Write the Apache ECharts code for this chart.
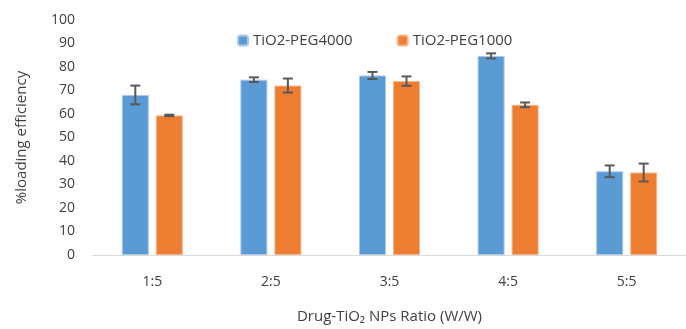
<!DOCTYPE html>
<html>
<head>
<meta charset="utf-8">
<script src="https://cdn.jsdelivr.net/npm/echarts@6/dist/echarts.min.js"></script>
<style>
html, body { margin: 0; padding: 0; background: #fff; }
#main { width: 686px; height: 329px; }
</style>
</head>
<body>
<div id="main"></div>
<script>
var categories = ['1:5', '2:5', '3:5', '4:5', '5:5'];
var peg4000 = [68.1, 74.6, 76.4, 84.7, 35.6];
var peg4000Err = [4.0, 1.0, 1.5, 1.1, 2.5];
var peg1000 = [59.4, 72.1, 74.0, 63.9, 35.1];
var peg1000Err = [0.3, 3.0, 2.0, 1.0, 3.8];

var BAR_W = 27;
var BAR_SHIFT = 17;

function errData(vals, errs) {
	return vals.map(function (v, i) {
		return [i, v - errs[i], v + errs[i]];
	});
}

function errRender(shift) {
	return function (params, api) {
		var lo = api.coord([api.value(0), api.value(1)]);
		var hi = api.coord([api.value(0), api.value(2)]);
		var x = lo[0] + shift;
		var half = 5;
		var style = { stroke: '#595959', lineWidth: 2 };
		return {
			type: 'group',
			children: [
				{ type: 'line', shape: { x1: x, y1: hi[1], x2: x, y2: lo[1] }, style: style },
				{ type: 'line', shape: { x1: x - half, y1: hi[1], x2: x + half, y2: hi[1] }, style: style },
				{ type: 'line', shape: { x1: x - half, y1: lo[1], x2: x + half, y2: lo[1] }, style: style }
			]
		};
	};
}

function showChart(divId) {
	var chart = echarts.init(document.getElementById(divId));
	var option = {
		animation: false,
		textStyle: { fontFamily: 'Open Sans' },
		grid: { left: 93, right: 0, top: 20, bottom: 70 },
		legend: {
			top: 28,
			left: 232,
			itemWidth: 10,
			itemHeight: 10,
			itemGap: 44,
			textStyle: { fontSize: 15, color: '#404040' },
			data: ['TiO2-PEG4000', 'TiO2-PEG1000']
		},
		xAxis: {
			type: 'category',
			data: categories,
			name: 'Drug-TiO\u2082 NPs Ratio (W/W)',
			nameLocation: 'middle',
			nameGap: 54,
			nameTextStyle: { fontSize: 15, color: '#404040' },
			axisLine: { lineStyle: { color: '#d9d9d9', width: 1 } },
			axisTick: { show: false },
			axisLabel: { fontSize: 14, color: '#404040', margin: 20 }
		},
		yAxis: {
			type: 'value',
			min: 0,
			max: 100,
			interval: 10,
			name: '%loading efficiency',
			nameLocation: 'middle',
			nameGap: 64,
			nameTextStyle: { fontSize: 15, color: '#404040' },
			axisLine: { show: false },
			axisTick: { show: false },
			splitLine: { show: false },
			axisLabel: { fontSize: 14, color: '#404040', margin: 18 }
		},
		series: [{
			name: 'TiO2-PEG4000',
			type: 'bar',
			barWidth: BAR_W,
			barGap: '26%',
			itemStyle: { color: '#5b9bd5', borderColor: '#a9c9ea', borderWidth: 1 },
			data: peg4000
		}, {
			name: 'TiO2-PEG1000',
			type: 'bar',
			barWidth: BAR_W,
			barGap: '26%',
			itemStyle: { color: '#ed7d31', borderColor: '#f5b48a', borderWidth: 1 },
			data: peg1000
		}, {
			type: 'custom',
			renderItem: errRender(-BAR_SHIFT),
			encode: { x: 0, y: [1, 2] },
			z: 10,
			data: errData(peg4000, peg4000Err)
		}, {
			type: 'custom',
			renderItem: errRender(BAR_SHIFT),
			encode: { x: 0, y: [1, 2] },
			z: 10,
			data: errData(peg1000, peg1000Err)
		}]
	};
	chart.setOption(option, true);
}

showChart('main');
</script>
</body>
</html>
